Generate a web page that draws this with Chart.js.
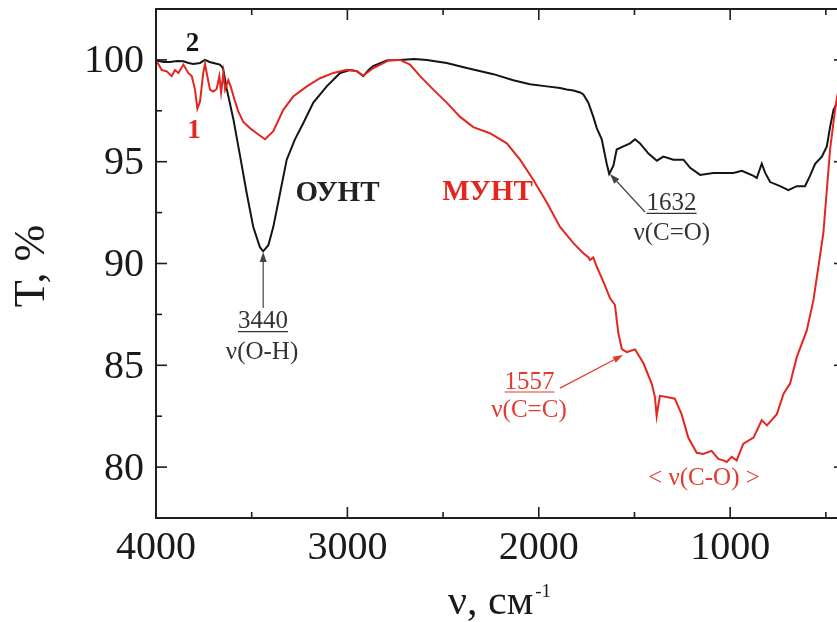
<!DOCTYPE html>
<html>
<head>
<meta charset="utf-8">
<title>ИК-спектры ОУНТ и МУНТ</title>
<script src="https://cdn.jsdelivr.net/npm/chart.js@4/dist/chart.umd.min.js"></script>
<style>
  html, body { margin: 0; padding: 0; background: #ffffff; overflow: hidden; }
  #wrap { width: 837px; height: 622px; overflow: hidden; position: relative; }
  canvas { display: block; }
</style>
</head>
<body>
<div id="wrap"><canvas id="spectra" width="860" height="622"></canvas></div>
<script>
// ---- Spectrum 2: ОУНТ (black) ----
const nuOUNT = [3996, 3960, 3927, 3890, 3857, 3830, 3805, 3770, 3744, 3720, 3700, 3666, 3650, 3631,
  3596, 3561, 3526, 3492, 3457, 3440, 3413, 3387, 3352, 3317, 3274, 3230, 3178, 3108, 3038, 2986,
  2950, 2917, 2890, 2866, 2794, 2725, 2650, 2585, 2481, 2376, 2237, 2133, 2046, 1958, 1889, 1854,
  1819, 1784, 1767, 1741, 1715, 1697, 1671, 1645, 1632, 1610, 1593, 1558, 1523, 1497, 1471, 1427,
  1383, 1349, 1297, 1244, 1209, 1157, 1088, 1035, 983, 939, 878, 861, 835, 817, 791, 739, 696, 652,
  609, 583, 556, 521, 495, 478, 460, 441, 420, 400];
const tOUNT = [99.97, 99.9, 99.9, 99.95, 99.93, 99.85, 99.8, 99.85, 100.0, 99.9, 99.85, 99.77, 99.6, 98.6,
  97.1, 95.3, 93.45, 91.8, 90.8, 90.6, 90.9, 91.8, 93.45, 95.1, 96.1, 96.9, 97.9, 98.7, 99.36, 99.5,
  99.45, 99.2, 99.5, 99.7, 99.97, 100.0, 100.05, 100.0, 99.85, 99.6, 99.3, 99.0, 98.8, 98.7, 98.62, 98.55,
  98.5, 98.4, 98.3, 97.9, 97.2, 96.65, 96.1, 94.9, 94.4, 94.8, 95.6, 95.75, 95.9, 96.1, 95.9, 95.4,
  95.05, 95.25, 95.1, 95.1, 94.7, 94.35, 94.45, 94.45, 94.45, 94.55, 94.3, 94.2, 94.9, 94.45, 94.0, 93.8, 93.6, 93.8,
  93.8, 94.3, 94.9, 95.25, 95.75, 96.7, 97.55, 97.9, 98.6, 99.2];

// ---- Spectrum 1: МУНТ (red) ----
const nuMUNT = [3996, 3970, 3944, 3918, 3901, 3883, 3857, 3831, 3813, 3796, 3784, 3770, 3753, 3744,
  3732, 3718, 3701, 3683, 3669, 3660, 3648, 3639, 3622, 3610, 3587, 3570, 3544, 3509, 3474, 3430,
  3387, 3335, 3283, 3212, 3143, 3073, 3003, 2951, 2917, 2864, 2794, 2777, 2725, 2673, 2620, 2551,
  2481, 2411, 2342, 2255, 2167, 2098, 2028, 1958, 1889, 1819, 1767, 1740, 1732, 1715, 1697, 1662,
  1628, 1602, 1584, 1566, 1557, 1540, 1497, 1453, 1410, 1393, 1384, 1376, 1367, 1332, 1289, 1254,
  1219, 1175, 1141, 1097, 1062, 1036, 1018, 992, 966, 931, 878, 835, 808, 756, 721, 687, 652, 600,
  565, 539, 513, 478, 452, 441, 420, 400];
const tMUNT = [99.93, 99.5, 99.44, 99.2, 99.5, 99.36, 99.77, 99.36, 99.2, 98.54, 97.6, 97.96, 99.36, 99.8,
  99.2, 98.54, 98.45, 98.57, 99.2, 98.4, 99.36, 98.54, 99.0, 98.7, 97.96, 97.47, 96.95, 96.65, 96.4, 96.1,
  96.5, 97.55, 98.2, 98.7, 99.1, 99.36, 99.52, 99.44, 99.23, 99.6, 99.93, 100.0, 100.0, 99.77, 99.2, 98.54,
  97.9, 97.2, 96.7, 96.4, 95.9, 95.1, 94.1, 93.0, 91.8, 91.0, 90.5, 90.3, 90.17, 90.3, 89.84, 89.1,
  88.3, 87.96, 86.56, 85.8, 85.75, 85.65, 85.78, 85.1, 84.1, 83.44, 82.5, 83.0, 83.5, 83.44, 83.36, 82.6,
  81.45, 80.7, 80.65, 80.8, 80.4, 80.33, 80.25, 80.5, 80.33, 81.15, 81.45, 82.3, 82.05, 82.6, 83.6, 84.1, 85.4, 86.7,
  88.2, 89.84, 91.5, 95.6, 97.55, 98.2, 99.0, 99.5];

// ---- Axis ticks ----
const xTickValues = [4000, 3000, 2000, 1000];
const xMinorValues = [3500, 2500, 1500, 500];
const yTickValues = [80, 85, 90, 95, 100];
const yMinorValues = [77.5, 82.5, 87.5, 92.5, 97.5, 102.5];

const RED = '#e3261f';
const RED_TEXT = '#e33a30';
const BLACK = '#141414';
const GREY_TEXT = '#333333';
const SERIF = '"Liberation Serif", "Times New Roman", serif';

function zip(xs, ys) { return xs.map((x, i) => ({ x: x, y: ys[i] })); }

// Frame on all four sides with inward major/minor ticks
const framePlugin = {
  id: 'frame',
  afterDraw(chart) {
    const { ctx, chartArea: a, scales: { x, y } } = chart;
    ctx.save();
    ctx.strokeStyle = '#1e1e1e';
    ctx.lineWidth = 2;
    ctx.strokeRect(a.left, a.top, a.right - a.left, a.bottom - a.top);
    ctx.lineWidth = 1.6;
    const tick = (x1, y1, x2, y2) => { ctx.beginPath(); ctx.moveTo(x1, y1); ctx.lineTo(x2, y2); ctx.stroke(); };
    const xt = (vals, len) => vals.forEach(v => {
      const px = x.getPixelForValue(v);
      tick(px, a.bottom, px, a.bottom - len);
      tick(px, a.top, px, a.top + len);
    });
    const yt = (vals, len) => vals.forEach(v => {
      const py = y.getPixelForValue(v);
      tick(a.left, py, a.left + len, py);
      tick(a.right, py, a.right - len, py);
    });
    xt(xTickValues, 11); xt(xMinorValues, 6);
    yt(yTickValues, 11); yt(yMinorValues, 6);
    ctx.restore();
  }
};

// Axis titles
const titlesPlugin = {
  id: 'titles',
  afterDraw(chart) {
    const { ctx } = chart;
    ctx.save();
    ctx.fillStyle = '#1a1a1a';
    ctx.font = '44px ' + SERIF;
    ctx.textAlign = 'center';
    ctx.textBaseline = 'middle';
    ctx.translate(32, 266);
    ctx.rotate(-Math.PI / 2);
    ctx.fillText('T, %', 0, 0);
    ctx.restore();

    ctx.save();
    ctx.fillStyle = '#1a1a1a';
    ctx.textBaseline = 'alphabetic';
    ctx.textAlign = 'left';
    ctx.font = '42px ' + SERIF;
    ctx.fillText('ν, см', 448, 614);
    const w = ctx.measureText('ν, см').width;
    ctx.font = '19px ' + SERIF;
    ctx.fillText('-1', 448 + w + 2, 597);
    ctx.restore();
  }
};

// Curve labels and band assignments, anchored in data coordinates
const labels = [
  { text: '2', nu: 3809, t: 100.8, color: BLACK, font: 'bold 27px ' + SERIF },
  { text: '1', nu: 3801, t: 96.51, color: RED, font: 'bold 27px ' + SERIF },
  { text: 'ОУНТ', nu: 3052, t: 93.46, color: '#222222', font: 'bold 29px ' + SERIF },
  { text: 'МУНТ', nu: 2268, t: 93.49, color: RED, font: 'bold 29px ' + SERIF },
  { text: '3440', nu: 3441, t: 87.15, color: GREY_TEXT, font: '25px ' + SERIF, underline: true },
  { text: 'ν(O-H)', nu: 3446, t: 85.65, color: GREY_TEXT, font: '25px ' + SERIF },
  { text: '1632', nu: 1306, t: 92.95, color: GREY_TEXT, font: '25px ' + SERIF, underline: true },
  { text: 'ν(C=O)', nu: 1305, t: 91.5, color: GREY_TEXT, font: '25px ' + SERIF },
  { text: '1557', nu: 2048, t: 84.18, color: RED_TEXT, font: '25px ' + SERIF, underline: true },
  { text: 'ν(C=C)', nu: 2051, t: 82.8, color: RED_TEXT, font: '25px ' + SERIF },
  { text: '< ν(C-O) >', nu: 1137, t: 79.42, color: RED_TEXT, font: '25px ' + SERIF }
];
const arrows = [
  { from: [3440, 87.81], to: [3440, 90.56], color: '#444444' },
  { from: [1445, 92.53], to: [1628, 94.4], color: '#444444' },
  { from: [1889, 83.88], to: [1560, 85.5], color: RED_TEXT }
];

const annotationPlugin = {
  id: 'bandLabels',
  afterDatasetsDraw(chart) {
    const { ctx, scales: { x, y } } = chart;
    ctx.save();
    labels.forEach(l => {
      const px = x.getPixelForValue(l.nu), py = y.getPixelForValue(l.t);
      ctx.font = l.font;
      ctx.fillStyle = l.color;
      ctx.textAlign = 'center';
      ctx.textBaseline = 'middle';
      ctx.fillText(l.text, px, py);
      if (l.underline) {
        const w = ctx.measureText(l.text).width;
        ctx.strokeStyle = l.color;
        ctx.lineWidth = 1.2;
        ctx.beginPath();
        ctx.moveTo(px - w / 2, py + 10);
        ctx.lineTo(px + w / 2, py + 10);
        ctx.stroke();
      }
    });
    arrows.forEach(a => {
      const x1 = x.getPixelForValue(a.from[0]), y1 = y.getPixelForValue(a.from[1]);
      const x2 = x.getPixelForValue(a.to[0]), y2 = y.getPixelForValue(a.to[1]);
      const ang = Math.atan2(y2 - y1, x2 - x1);
      const head = 10, half = 3.5;
      ctx.strokeStyle = a.color;
      ctx.fillStyle = a.color;
      ctx.lineWidth = 1.2;
      ctx.beginPath();
      ctx.moveTo(x1, y1);
      ctx.lineTo(x2 - head * Math.cos(ang), y2 - head * Math.sin(ang));
      ctx.stroke();
      ctx.beginPath();
      ctx.moveTo(x2, y2);
      ctx.lineTo(x2 - head * Math.cos(ang) + half * Math.sin(ang), y2 - head * Math.sin(ang) - half * Math.cos(ang));
      ctx.lineTo(x2 - head * Math.cos(ang) - half * Math.sin(ang), y2 - head * Math.sin(ang) + half * Math.cos(ang));
      ctx.closePath();
      ctx.fill();
    });
    ctx.restore();
  }
};

new Chart(document.getElementById('spectra'), {
  type: 'line',
  data: {
    datasets: [
      { label: 'МУНТ', data: zip(nuMUNT, tMUNT), borderColor: RED, borderWidth: 2,
        pointRadius: 0, tension: 0, fill: false },
      { label: 'ОУНТ', data: zip(nuOUNT, tOUNT), borderColor: BLACK, borderWidth: 2,
        pointRadius: 0, tension: 0, fill: false }
    ]
  },
  options: {
    responsive: false,
    animation: false,
    events: [],
    layout: { padding: { top: 9, right: 15, left: 0, bottom: 0 } },
    plugins: { legend: { display: false }, tooltip: { enabled: false } },
    scales: {
      x: {
        type: 'linear', reverse: true, min: 400, max: 4000, position: 'bottom',
        afterBuildTicks: s => { s.ticks = xTickValues.map(v => ({ value: v })); },
        afterFit: s => { s.height = 104; s.paddingLeft = 0; s.paddingRight = 0; },
        grid: { display: false, drawTicks: false },
        border: { display: false },
        ticks: { font: { family: SERIF, size: 40 }, color: '#1a1a1a', padding: 6,
                 maxRotation: 0, autoSkip: false, callback: v => String(v) }
      },
      y: {
        type: 'linear', min: 77.5, max: 102.5,
        afterBuildTicks: s => { s.ticks = yTickValues.map(v => ({ value: v })); },
        afterFit: s => { s.width = 156; s.paddingTop = 0; s.paddingBottom = 0; },
        grid: { display: false, drawTicks: false },
        border: { display: false },
        ticks: { font: { family: SERIF, size: 40 }, color: '#1a1a1a', padding: 12,
                 labelOffset: 2, callback: v => String(v) }
      }
    }
  },
  plugins: [framePlugin, titlesPlugin, annotationPlugin]
});
</script>
</body>
</html>
